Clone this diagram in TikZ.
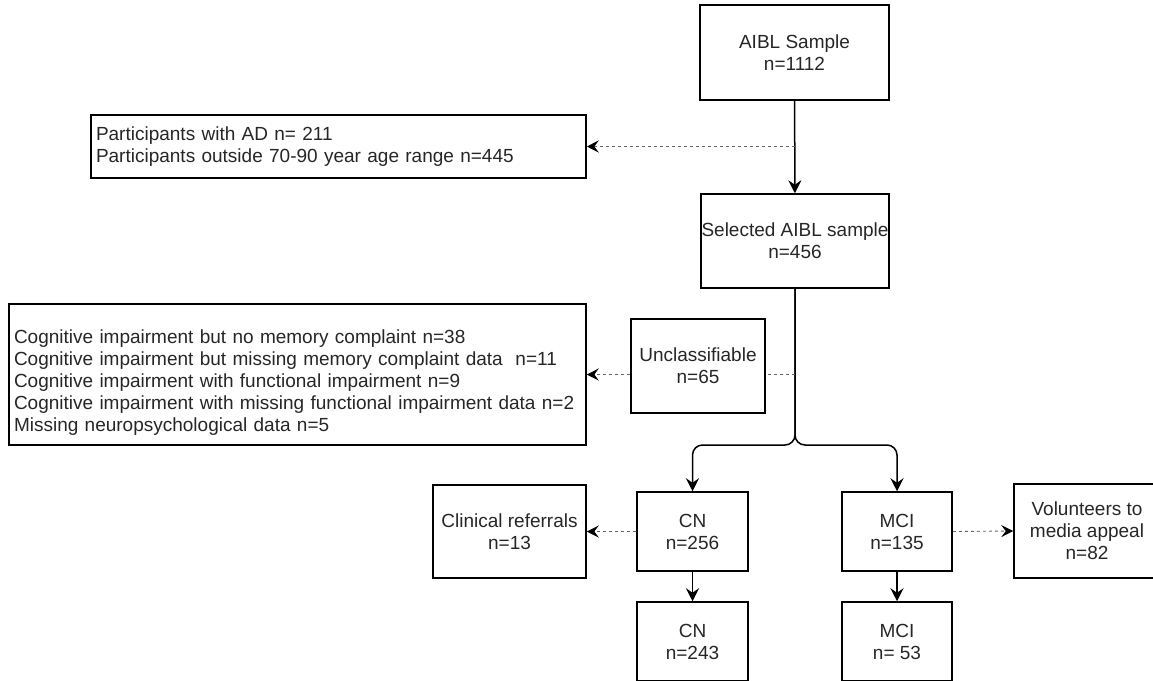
\documentclass[tikz,border=0pt]{standalone}
\usepackage{fontspec}
\setmainfont{Liberation Sans}
\usetikzlibrary{arrows.meta}

\begin{document}
\begin{tikzpicture}[x=1pt, y=-1pt, >={Stealth[length=13pt,width=13pt,inset=4.5pt]}]
			\tikzset{
				process/.style={rectangle, draw=black, line width=1.5pt, inner sep=0pt, align=center, font=\fontsize{19}{22}\selectfont, text=black!85},
				exclude/.style={rectangle, draw=black, line width=1.5pt, inner xsep=5pt, inner ysep=0pt, align=left, font=\fontsize{19}{22}\selectfont, text=black!85},
				arrow/.style={line width=1.5pt, ->},
				dashline/.style={line width=0.9pt, dash pattern=on 3pt off 3pt, draw=black!60},
				dasharrow/.style={dashline, -{Stealth[length=12pt,width=12pt,inset=4.5pt,color=black]}},
			}
			\useasboundingbox (0,0) rectangle (1153,680);
			\node[process, minimum width=189pt, minimum height=95pt](aibl) at (794.5,52.5) {AIBL Sample\\n=1112};
			\node[exclude, text width=485pt, minimum height=63pt](part) at (338.5,146.5) {Participants with AD n= 211\\Participants outside 70-90 year age range n=445};
			\node[process, minimum width=188pt, minimum height=94pt](sel) at (795,241) {Selected AIBL sample\\n=456};
			\node[exclude, text width=567pt, minimum height=141pt](big) at (297.5,374.5) {\rule{0pt}{30pt}Cognitive impairment but no memory complaint n=38\\Cognitive impairment but missing memory complaint data\ \ n=11\\Cognitive impairment with functional impairment n=9\\Cognitive impairment with missing functional impairment data n=2\\Missing neuropsychological data n=5};
			\node[process, minimum width=134pt, minimum height=94pt](uncl) at (698,366) {Unclassifiable\\n=65};
			\node[process, minimum width=111pt, minimum height=79pt](cn) at (692.5,531.5) {CN\\n=256};
			\node[process, minimum width=110pt, minimum height=79pt](mci) at (897,531.5) {MCI\\n=135};
			\node[process, minimum width=153pt, minimum height=93pt](clin) at (509.5,531.5) {Clinical referrals\\n=13};
			\node[process, minimum width=146pt, minimum height=94pt](vol) at (1087,531) {Volunteers to\\media appeal\\n=82};
			\node[process, minimum width=111pt, minimum height=79pt](cnfinal) at (692.5,641.5) {CN\\n=243};
			\node[process, minimum width=110pt, minimum height=79pt](mcifinal) at (897,641.5) {MCI\\n= 53};
			\coordinate (split) at (795,445);
			%Draw arrows
			\draw[arrow] (aibl) -- (sel);
			\draw[dasharrow] (aibl.south |- part.east) -- (part.east);
			\draw[arrow, rounded corners=10pt] (sel.south) -- (split) -| (cn.north);
			\draw[arrow, rounded corners=10pt] (sel.south) -- (split) -| (mci.north);
			\draw[dashline] (sel.south |- big.east) -- (uncl.east |- big.east);
			\draw[dasharrow] (uncl.west |- big.east) -- (big.east);
			\draw[dasharrow] (cn.west) -- (clin.east);
			\draw[dasharrow] (mci.east) -- (vol.west);
			\draw[arrow] (cn) -- (cnfinal);
			\draw[arrow] (mci) -- (mcifinal);
		\end{tikzpicture}
\end{document}
